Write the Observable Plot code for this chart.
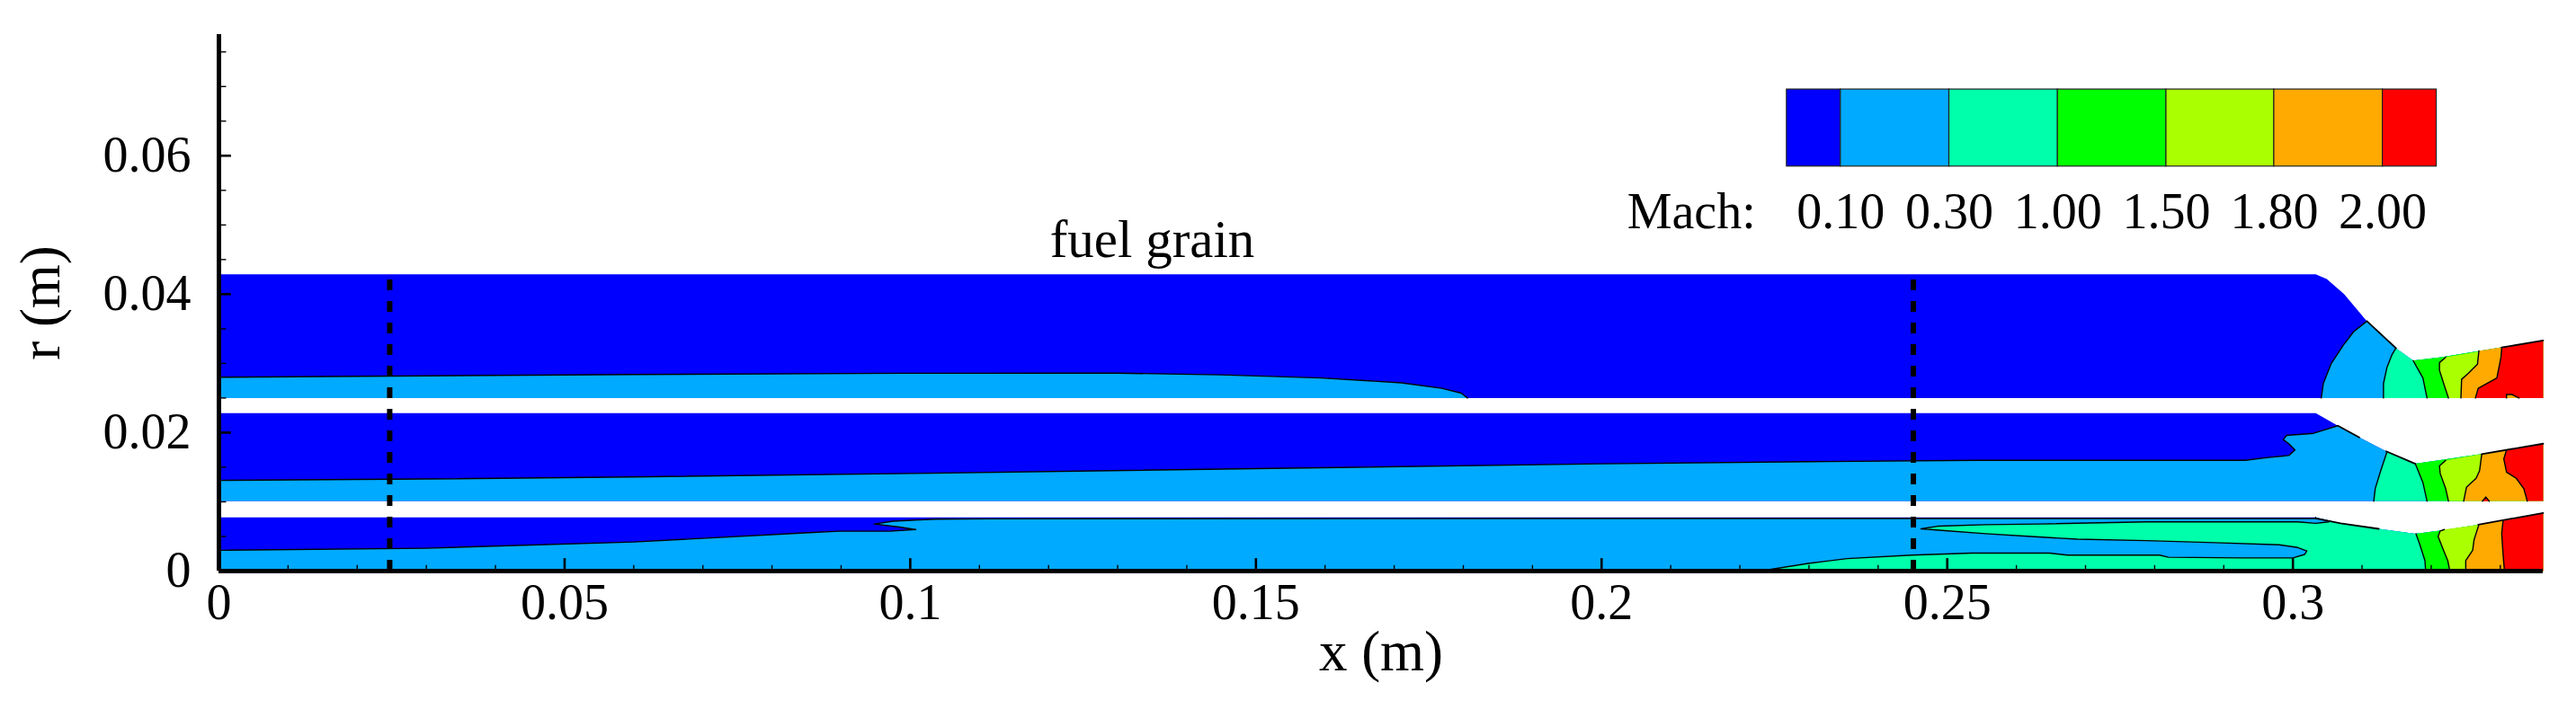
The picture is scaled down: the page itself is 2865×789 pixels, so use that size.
<!DOCTYPE html>
<html><head><meta charset="utf-8">
<style>html,body{margin:0;padding:0;background:#fff}svg{display:block}</style>
<script src="https://cdn.jsdelivr.net/npm/d3@7"></script>
<script src="https://cdn.jsdelivr.net/npm/@observablehq/plot@0.6"></script>
</head><body><script>
const xEnd = 0.3362;
const machColors = ["#0000ff","#00aaff","#00ffaa","#00ff00","#aaff00","#ffaa00","#ff0000"];
const machLabels = ["0.10","0.30","1.00","1.50","1.80","2.00"];
const legendEdges = [0.2268,0.2346,0.2503,0.2660,0.2817,0.2973,0.3130,0.3208];
const xMajor = [0,0.05,0.1,0.15,0.2,0.25,0.3];
const xMinor = d3.range(1,34).map(i=>i/100).filter(v=>Math.round(v*100)%5!==0);
const yMajor = [0,0.02,0.04,0.06];
const yMinor = [0.005,0.01,0.015,0.025,0.03,0.035,0.045,0.05,0.055,0.065,0.07,0.075];
const probes = [0.0247,0.2451];

// top strip
const topBottom = 0.0250;
const topWall = [[0,.04286],[.3033,.04286],[.3049,.0422],[.3074,.0400],[.3107,.0361],[.3149,.0322],[.3174,.0304],[.3215,.0309],[.3362,.0333]];
const topBL = [[0,.0280],[.03,.0282],[.06,.0284],[.0984,.02857],[.1298,.0286],[.1449,.02835],[.1594,.0279],[.171,.0272],[.1769,.0264],[.1797,.0257],[.1806,.0250]];
const topC1 = [[.3041,.0250],[.3044,.0271],[.3055,.0299],[.3072,.0325],[.3088,.0346],[.3107,.0361]];
const topC2 = [[.3131,.0250],[.3131,.0271],[.3136,.0294],[.3143,.0312],[.3149,.0322]];
const topC3 = [[.3194,.0250],[.3188,.0279],[.3174,.0304]];
const topC4 = [[.3225,.0250],[.3219,.0268],[.3212,.0290],[.3212,.0301],[.3221,.0309]];
const topC5 = [[.3243,.0250],[.3244,.0277],[.3254,.0286],[.3267,.0299],[.3269,.0318]];
const topC6 = [[.3264,.0250],[.3268,.0264],[.3295,.0279],[.3301,.0309],[.3302,.0323]];
const topIsland = [[.3309,.0250],[.3309,.0255],[.3317,.0255],[.3327,.0250]];
// middle strip
const midBottom = 0.01013;
const midWall = [[0,.0228],[.3033,.0228],[.3049,.0219],[.3065,.0210],[.3096,.0193],[.3135,.0173],[.3149,.0167],[.3177,.0155],[.3218,.0161],[.3273,.0169],[.3362,.0184]];
const midC1 = [[0,.0131],[.03,.0133],[.06,.0136],[.1,.0141],[.15,.0148],[.2,.0155],[.23,.0158],[.2544,.0160],[.2931,.0160],[.2964,.0164],[.2994,.0167],[.3003,.0175],[.2994,.0184],[.2986,.0190],[.2991,.0196],[.3030,.0199],[.3052,.0206],[.3065,.0210]];
const midC2 = [[.3117,.0101],[.3119,.0119],[.3127,.0145],[.3136,.0172]];
const midC3 = [[.3194,.0101],[.3188,.0128],[.3177,.0155]];
const midC4 = [[.3225,.0101],[.3221,.0119],[.3213,.0141],[.3212,.0152],[.3221,.0160]];
const midC5 = [[.3247,.0101],[.3251,.0121],[.3265,.0134],[.3270,.0145],[.3273,.0168]];
const midC6 = [[.3339,.0101],[.3334,.0119],[.3323,.0134],[.3309,.0143],[.3305,.0162],[.3309,.0175]];
const midIsland = [[.3274,.0101],[.3279,.0107],[.3284,.0101]];
// lower strip
const lowWall = [[0,.00775],[.3033,.00775],[.3069,.0069],[.3124,.0061],[.3177,.0054],[.3218,.0059],[.3268,.0067],[.3362,.0084]];
const lowC1 = [[0,.0030],[.03,.0033],[.06,.0042],[.0854,.00554],[.0897,.00576],[.0971,.00576],[.1008,.0060],[.0984,.00636],[.0948,.0068],[.0975,.0072],[.1036,.0075],[.1114,.00755],[.2,.0076],[.3033,.0076],[.3033,.00775]];
const lowC2 = [[.2229,0],[.2299,.0011],[.2355,.0018],[.2449,.0023],[.2535,.0026],[.2648,.0026],[.2674,.0023],[.2807,.0023],[.2820,.0020],[.2927,.0019],[.3,.0019],[.3017,.0024],[.3020,.0029],[.3007,.0034],[.2980,.0038],[.2887,.0041],[.2788,.0044],[.2688,.0046],[.2621,.0050],[.2555,.0054],[.2501,.0058],[.2462,.0061],[.2488,.0065],[.2555,.0067],[.2634,.0068],[.2788,.0071],[.3007,.0071],[.3033,.0069],[.3052,.0071]];
const lowC3 = [[.3192,0],[.3191,.0015],[.3184,.0037],[.3178,.0054]];
const lowC4 = [[.3227,0],[.3224,.0015],[.3217,.0032],[.3210,.0050],[.3213,.0058],[.3219,.0060]];
const lowC5 = [[.3250,0],[.3250,.0015],[.3260,.0030],[.3262,.0045],[.3269,.0067]];
const lowC6 = [[.3306,0],[.3304,.0024],[.3302,.0054],[.3304,.0073]];
// contours that hug the wall
const wallEdges = [
  [[.3107,.0361],[.3149,.0322]], [[.3302,.0323],[.3362,.0333]],
  [[.3065,.0210],[.3096,.0193]], [[.3135,.0173],[.3177,.0155]], [[.3273,.0169],[.3362,.0184]],
  [[.3033,.0076],[.3069,.0069],[.3124,.0061]], [[.3268,.0067],[.3362,.0084]]
];

const band = (c, wall, bottom) => [...c, ...wall.filter(p=>p[0]>c[c.length-1][0]), [xEnd,bottom], [c[0][0],bottom]];
const strips = [
  {wall:topWall, bottom:topBottom, levels:[topC1,topC2,topC3,topC4,topC5,topC6]},
  {wall:midWall, bottom:midBottom, levels:[midC1,midC2,midC3,midC4,midC5,midC6]},
  {wall:lowWall, bottom:0, levels:[lowC1,lowC2,lowC3,lowC4,lowC5,lowC6]}
];
const px = {x:d=>d[0], y:d=>d[1]};
const fills = [];
for (const s of strips) {
  fills.push(Plot.line([...s.wall,[xEnd,s.bottom],[0,s.bottom]],{...px,fill:machColors[0],stroke:"none"}));
  s.levels.forEach((c,i)=>fills.push(Plot.line(band(c,s.wall,s.bottom),{...px,fill:machColors[i+1],stroke:"none"})));
}
const islands = [
  Plot.line(topBL.concat([[0,topBottom]]),{...px,fill:machColors[1],stroke:"none"}),
  Plot.line(topIsland,{...px,fill:machColors[5],stroke:"none"}),
  Plot.line(midIsland,{...px,fill:machColors[6],stroke:"none"})
];
const contours = [topBL,topC1,topC2,topC3,topC4,topC5,topC6,topIsland,midC1,midC2,midC3,midC4,midC5,midC6,midIsland,lowC1,lowC2,lowC3,lowC4,lowC5,lowC6];
const font = "Liberation Serif";
const chart = Plot.plot({
  width:2865, height:789, marginLeft:243, marginRight:37, marginTop:38, marginBottom:154,
  x:{domain:[0,xEnd]}, y:{domain:[0,0.0775]}, style:{background:"#fff", fontFamily:font},
  marks:[
    ...fills, ...islands,
    ...contours.map(c=>Plot.line(c,{...px,stroke:"#000",strokeWidth:1.4})),
    ...wallEdges.map(c=>Plot.line(c,{...px,stroke:"#000",strokeWidth:1.8})),
    ...probes.map(v=>Plot.ruleX([v],{y1:0,y2:0.0425,stroke:"#000",strokeWidth:6,strokeDasharray:"12,12"})),
    Plot.ruleX(xMinor,{y1:0,y2:0.0008,stroke:"#000",strokeWidth:1.4}),
    Plot.ruleX(xMajor.slice(1),{y1:0,y2:0.0018,stroke:"#000",strokeWidth:2.6}),
    Plot.ruleY(yMinor,{x1:0,x2:0.0011,stroke:"#000",strokeWidth:1.4}),
    Plot.ruleY(yMajor.slice(1),{x1:0,x2:0.0018,stroke:"#000",strokeWidth:2.6}),
    Plot.ruleX([0],{stroke:"#000",strokeWidth:5}),
    Plot.ruleY([0],{stroke:"#000",strokeWidth:5}),
    Plot.axisX({ticks:xMajor,tickSize:0,tickPadding:14,tickFormat:d=>String(d),fontSize:56,label:"x (m)",labelAnchor:"center",labelArrow:"none",labelOffset:110}),
    Plot.axisY({ticks:yMajor,tickSize:0,tickPadding:31,tickFormat:d=>String(d),fontSize:56,label:"r (m)",labelAnchor:"center",labelArrow:"none",labelOffset:222}),
    Plot.rect(machColors,{x1:(d,i)=>legendEdges[i],x2:(d,i)=>legendEdges[i+1],y1:0.05844,y2:0.06957,fill:d=>d,stroke:"#222",strokeWidth:1.2}),
    Plot.text(machLabels,{x:(d,i)=>legendEdges[i+1],y:0.0518,text:d=>d,fontSize:56}),
    Plot.text(["Mach:"],{x:[0.2037],y:[0.0518],text:d=>d,fontSize:56,textAnchor:"start"}),
    Plot.text(["fuel grain"],{x:[0.1350],y:[0.0478],text:d=>d,fontSize:59})
  ]
});
chart.querySelectorAll("[aria-label='y-axis label'] text, [aria-label='x-axis label'] text").forEach(t=>t.setAttribute("font-size","63"));
document.body.append(chart);
</script></body></html>
